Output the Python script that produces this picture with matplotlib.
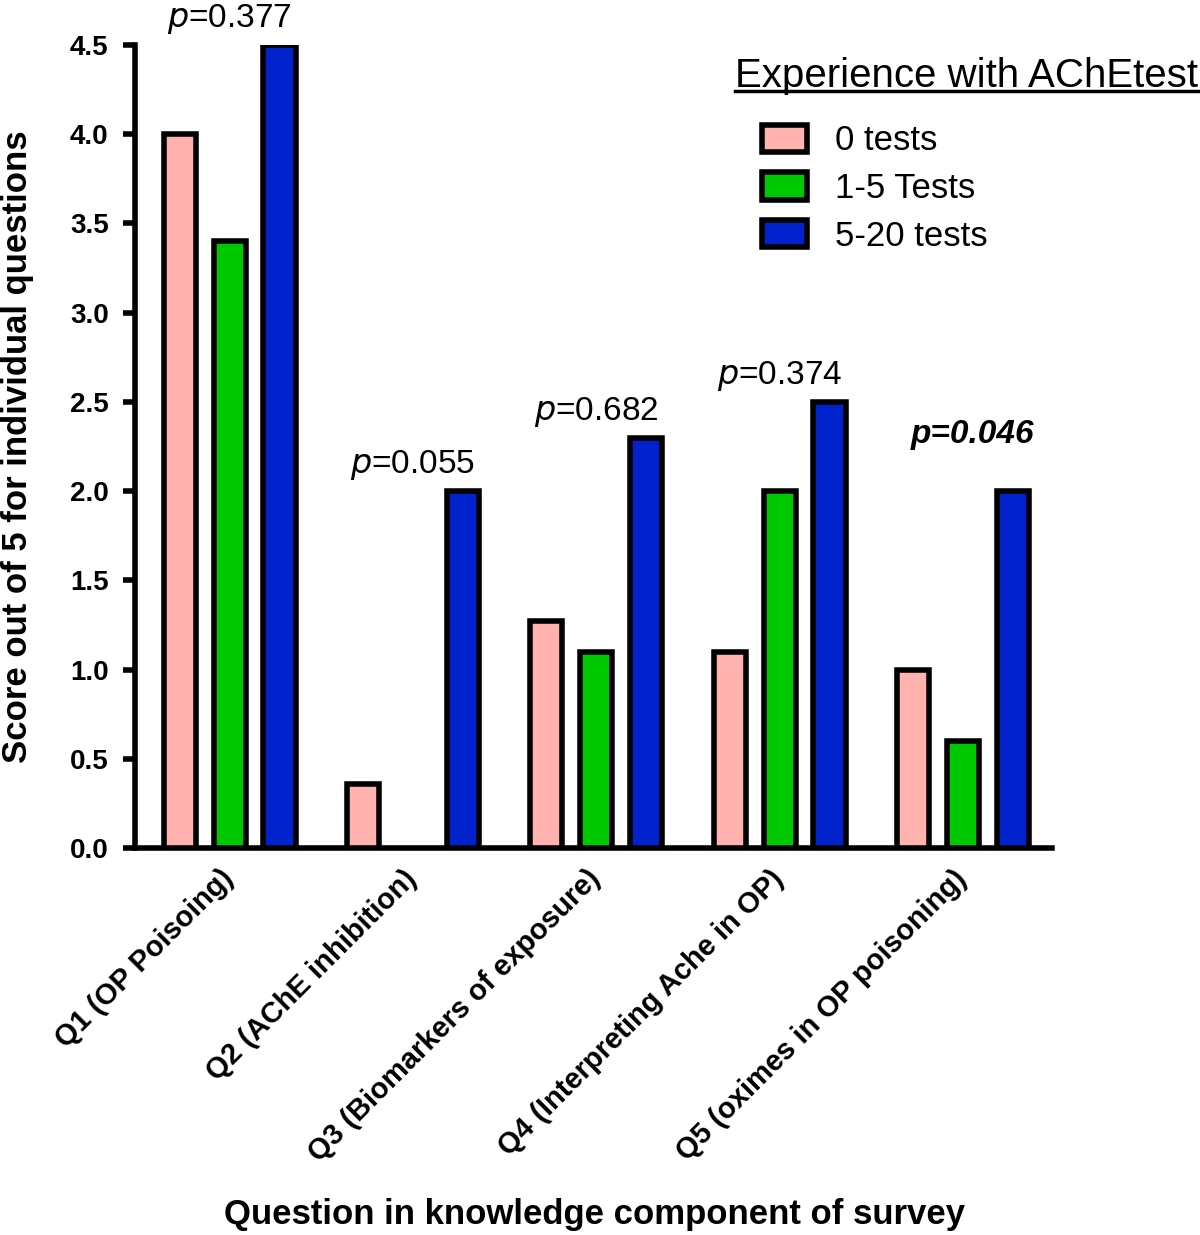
import matplotlib
matplotlib.use("Agg")
import matplotlib.pyplot as plt
import numpy as np

plt.rcParams['font.family'] = ['Liberation Sans', 'DejaVu Sans']

questions = ["Q1 (OP Poisoing)", "Q2 (AChE inhibition)", "Q3 (Biomarkers of exposure)",
             "Q4 (Interpreting Ache in OP)", "Q5 (oximes in OP poisoning)"]
groups = ["0 tests", "1-5 Tests", "5-20 tests"]
zero_tests = [4.0, 0.36, 1.27, 1.1, 1.0]
one_to_five = [3.4, 0.0, 1.1, 2.0, 0.6]
five_to_twenty = [4.5, 2.0, 2.3, 2.5, 2.0]
p_values = ["0.377", "0.055", "0.682", "0.374", "0.046"]
significant = [False, False, False, False, True]

colors = ["#FFB2AE", "#00C800", "#0022CC"]

fig = plt.figure(figsize=(12, 12.35), dpi=100)
ax = fig.add_axes([0.1125, 0.3134, 0.7645, 0.6502])

x = np.arange(len(questions))
width = 0.175
offset = 0.272
series = [zero_tests, one_to_five, five_to_twenty]
for k, vals in enumerate(series):
    b = ax.bar(x + (k - 1) * offset, vals, width, color=colors[k],
               edgecolor="black", linewidth=4, label=groups[k], zorder=3)
    # an empty bar shows nothing in the original
    for patch, v in zip(b, vals):
        if v == 0:
            patch.set_visible(False)

# p-value labels over the tallest bar of each group
for i in range(len(questions)):
    top = max(s[i] for s in series)
    if significant[i]:
        ax.text(x[i] + 0.05, top + 0.23, "p=" + p_values[i],
                ha="center", va="bottom", fontsize=24, fontweight="bold",
                fontstyle="italic", clip_on=False)
    else:
        ax.text(x[i], top + 0.05, "$\\it{p}$=" + p_values[i], ha="center", va="bottom",
                fontsize=24, clip_on=False)

ax.set_xlim(-0.516, 4.488)
ax.set_ylim(0, 4.5)
yt = np.arange(0, 4.51, 0.5)
ax.set_yticks(yt)
ax.set_yticklabels([f"{v:.1f}" for v in yt], fontsize=20, fontweight="bold")
ax.set_xticks(x)
ax.set_xticklabels(questions, rotation=45, ha="right", va="center", rotation_mode="anchor",
                   fontsize=21, fontweight="bold")
ax.tick_params(axis="y", direction="out", length=9, width=4, pad=10)
ax.tick_params(axis="x", length=0, pad=19)
for side in ["top", "right"]:
    ax.spines[side].set_visible(False)
for side in ["left", "bottom"]:
    ax.spines[side].set_linewidth(4)

ax.set_ylabel("Score out of 5 for individual questions", fontsize=25, fontweight="bold", labelpad=26)
ax.set_xlabel("Question in knowledge component of survey", fontsize=25, fontweight="bold")
ax.xaxis.set_label_coords(0.501, -0.436)

leg = ax.legend(loc="upper left", bbox_to_anchor=(0.649, 0.94), frameon=False, fontsize=25,
                handlelength=1.3, handleheight=0.85, handletextpad=0.8, labelspacing=0.42)
for h in leg.legend_handles:
    h.set_linewidth(4)

title = fig.text(0.9985, 0.9295, "Experience with AChEtest", ha="right", va="baseline", fontsize=29)
fig.canvas.draw()
bb = title.get_window_extent().transformed(fig.transFigure.inverted())
fig.add_artist(plt.Line2D([bb.x0, bb.x1], [0.9265, 0.9265], color="black", lw=2.5,
                          transform=fig.transFigure))

fig.savefig("out.png", dpi=100)
